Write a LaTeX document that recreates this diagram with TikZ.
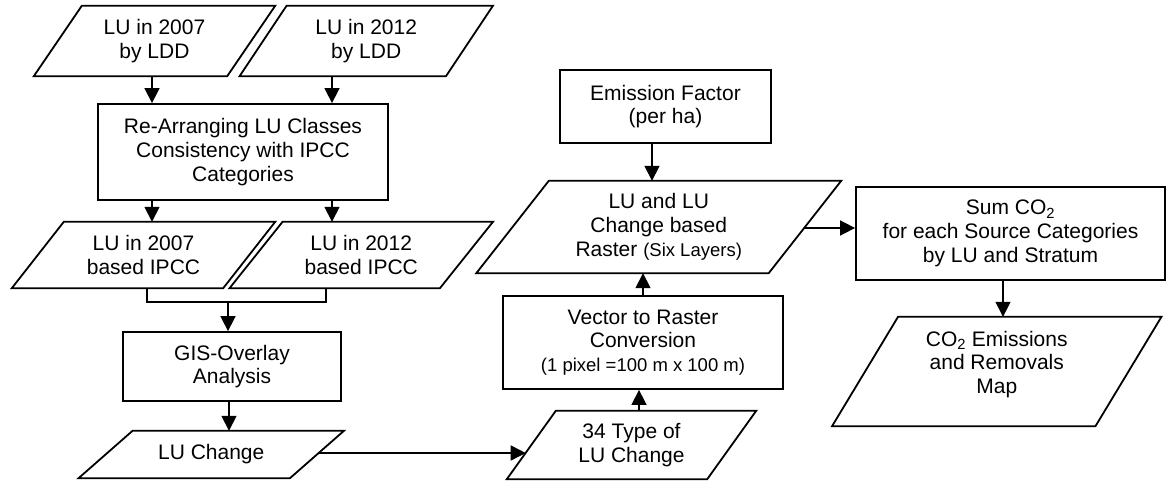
\documentclass[tikz,border=0pt]{standalone}
\usepackage{fontspec}
\setmainfont{Liberation Sans}
\usetikzlibrary{arrows.meta}
\newcommand\paraline[2]{\draw[lnk] ([xshift=#2]#1.north west) -- ([xshift=#2]#1.north east) -- ([xshift=-#2]#1.south east) -- ([xshift=-#2]#1.south west) -- cycle;}
\begin{document}
\begin{tikzpicture}[x=1pt,y=-1pt,
  every node/.style={font=\fontsize{21}{23.7}\selectfont, align=center, inner sep=0pt},
  box/.style={draw, line width=1.8pt},
  lnk/.style={line width=1.8pt},
  arr/.style={line width=1.6pt, -{Triangle[length=15pt,width=15pt]}}]
\useasboundingbox (0,0) rectangle (1166,481);

% data (parallelogram) nodes and process boxes
\node[minimum width=193pt, minimum height=70pt] (ldd07) at (154.5,41) {LU in 2007\\by LDD};
\paraline{ldd07}{24pt}
\node[minimum width=206pt, minimum height=70pt] (ldd12) at (366.25,41) {LU in 2012\\by LDD};
\paraline{ldd12}{23.5pt}
\node[box, minimum width=290pt, minimum height=96pt] (rearr) at (243,152) {Re-Arranging LU Classes\\Consistency with IPCC\\Categories};
\node[minimum width=211pt, minimum height=66pt] (ipcc07) at (143.5,255) {LU in 2007\\based IPCC};
\paraline{ipcc07}{26pt}
\node[minimum width=210pt, minimum height=66pt] (ipcc12) at (361.25,255) {LU in 2012\\based IPCC};
\paraline{ipcc12}{26.5pt}
\node[box, minimum width=218pt, minimum height=69pt] (gis) at (232,366.5) {GIS-Overlay\\Analysis};
\node[minimum width=211pt, minimum height=47pt] (luc) at (211.25,454.5) {LU Change};
\paraline{luc}{27pt}
\node[minimum width=200pt, minimum height=68pt] (t34) at (631.5,445) {34 Type of\\LU Change};
\paraline{t34}{24.5pt}
\node[box, minimum width=280pt, minimum height=93pt] (vec) at (643,342.5) {Vector to Raster\\Conversion\\{\fontsize{18.5}{22}\selectfont (1 pixel =100 m x 100 m)}};
\node[minimum width=292pt, minimum height=92pt] (ras) at (658.75,227) {LU and LU\\Change based\\Raster {\fontsize{18.5}{22}\selectfont (Six Layers)}};
\paraline{ras}{36.25pt}
\node[box, minimum width=211pt, minimum height=73pt] (emis) at (665.5,106.5) {Emission Factor\\(per ha)};
\node[box, minimum width=309pt, minimum height=93pt] (sum) at (1010.5,233.5) {Sum CO\textsubscript{2}\\for each Source Categories\\by LU and Stratum};
\node[minimum width=263pt, minimum height=109pt] (map) at (996.75,371.5) {CO\textsubscript{2} Emissions\\and Removals\\Map\\[-5.3pt]\mbox{}};
\paraline{map}{33pt}

% connectors
\coordinate (xa) at (152,0);
\coordinate (xb) at (332,0);
\draw[arr] (xa |- ldd07.south) -- (xa |- rearr.north);
\draw[arr] (xb |- ldd12.south) -- (xb |- rearr.north);
\draw[arr] (xa |- rearr.south) -- (xa |- ipcc07.north);
\draw[arr] (xb |- rearr.south) -- (xb |- ipcc12.north);

\coordinate (brL) at (147,302);
\coordinate (brR) at (326,302);
\coordinate (brM) at (228,302);
\draw[lnk] (brL |- ipcc07.south) -- (brL) -- (brR) -- (brR |- ipcc12.south);
\draw[arr] (brM) -- (brM |- gis.north);

\coordinate (xg) at (229,0);
\draw[arr] (xg |- gis.south) -- (xg |- luc.north);

\coordinate (lucE) at (317.5,453);
\coordinate (t34W) at (525.7,453);
\draw[arr] (lucE) -- (t34W);

\coordinate (xt) at (639,0);
\draw[arr] (xt |- t34.north) -- (xt |- vec.south);
\coordinate (xv) at (643,0);
\draw[arr] (xv |- vec.north) -- (xv |- ras.south);
\coordinate (xe) at (652,0);
\draw[arr] (xe |- emis.south) -- (xe |- ras.north);

\coordinate (rasE) at (803.7,228);
\draw[arr] (rasE) -- (rasE -| sum.west);

\coordinate (xs) at (1003,0);
\draw[arr] (xs |- sum.south) -- (xs |- map.north);
\end{tikzpicture}
\end{document}
